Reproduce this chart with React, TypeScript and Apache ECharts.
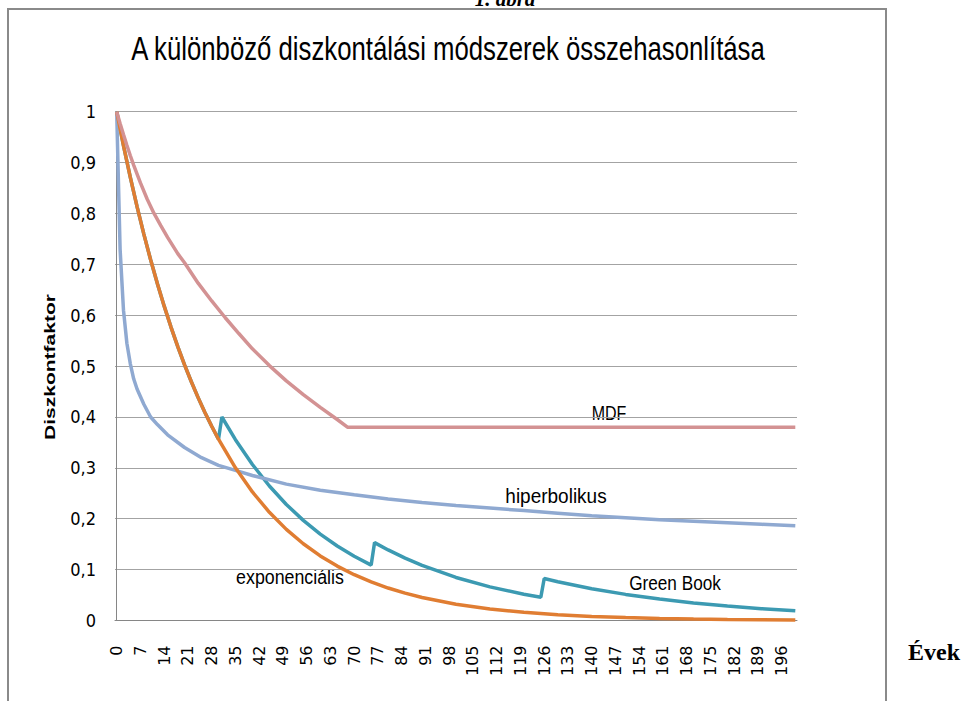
import React, { useEffect, useRef } from 'react';
import * as echarts from 'echarts';

// X tick labels (years) and Y tick labels
const xTickLabels = [0, 7, 14, 21, 28, 35, 42, 49, 56, 63, 70, 77, 84, 91, 98, 105, 112, 119, 126, 133, 140, 147, 154, 161, 168, 175, 182, 189, 196];
const yTickLabels = ['0', '0,1', '0,2', '0,3', '0,4', '0,5', '0,6', '0,7', '0,8', '0,9', '1'];

// exponenciális
const expYears = [0, 2, 4, 6, 8, 10, 12, 14, 16, 18, 20, 22, 24, 26, 28, 30, 35, 40, 45, 50, 55, 60, 65, 70, 75, 80, 85, 90, 100, 110, 120, 130, 140, 150, 160, 170, 180, 190, 200];
const expValues = [1, 0.9335, 0.8714, 0.8135, 0.7594, 0.7089, 0.6618, 0.6178, 0.5767, 0.5384, 0.5026, 0.4692, 0.438, 0.4088, 0.3817, 0.3563, 0.3, 0.2526, 0.2127, 0.1791, 0.1508, 0.1269, 0.1069, 0.09, 0.0758, 0.0638, 0.0537, 0.0453, 0.0321, 0.0228, 0.0161, 0.0115, 0.0081, 0.0058, 0.0041, 0.0029, 0.0021, 0.0015, 0.001];

// Green Book
const gbYears = [0, 2, 4, 6, 8, 10, 12, 14, 16, 18, 20, 22, 24, 26, 28, 30, 31, 35, 40, 45, 50, 55, 60, 65, 70, 75, 76, 80, 85, 90, 100, 110, 120, 125, 126, 130, 140, 150, 160, 170, 180, 190, 200];
const gbValues = [1, 0.9335, 0.8714, 0.8135, 0.7594, 0.7089, 0.6618, 0.6178, 0.5767, 0.5384, 0.5026, 0.4692, 0.438, 0.4088, 0.3817, 0.3563, 0.4, 0.3554, 0.3066, 0.2644, 0.2281, 0.1968, 0.1697, 0.1464, 0.1263, 0.1089, 0.1531, 0.1387, 0.1226, 0.1083, 0.0846, 0.0661, 0.0516, 0.0456, 0.0825, 0.0762, 0.0625, 0.0513, 0.0421, 0.0345, 0.0283, 0.0232, 0.0191];

// hiperbolikus
const hypYears = [0, 1, 2, 3, 4, 5, 6, 8, 10, 12, 15, 20, 25, 30, 35, 40, 50, 60, 70, 80, 90, 100, 110, 120, 130, 140, 150, 160, 170, 180, 190, 200];
const hypValues = [1, 0.73, 0.61, 0.545, 0.505, 0.475, 0.455, 0.425, 0.4, 0.385, 0.365, 0.34, 0.32, 0.305, 0.295, 0.285, 0.268, 0.256, 0.247, 0.239, 0.232, 0.226, 0.221, 0.216, 0.211, 0.206, 0.202, 0.198, 0.195, 0.192, 0.189, 0.186];

// MDF
const mdfYears = [0, 1, 2, 3, 4, 5, 7, 9, 11, 13, 15, 18, 20, 24, 28, 32, 36, 40, 45, 50, 55, 60, 65, 68, 100, 150, 200];
const mdfValues = [1, 0.977, 0.955, 0.934, 0.914, 0.895, 0.86, 0.828, 0.8, 0.776, 0.753, 0.721, 0.703, 0.663, 0.628, 0.595, 0.564, 0.534, 0.501, 0.471, 0.444, 0.419, 0.395, 0.38, 0.38, 0.38, 0.38];

const pairs = (xs: number[], ys: number[]) => xs.map((x, i) => [x, ys[i]]);

const SANS = '"Liberation Sans", Arial, sans-serif';

const centerText = (x: number, y: number, text: string, font: string, scaleX = 1) => ({
  type: 'text',
  x,
  y,
  scaleX,
  silent: true,
  style: { text, font, fill: '#000', align: 'center', verticalAlign: 'middle', textAlign: 'center', textVerticalAlign: 'middle' },
});

export default function App() {
  const ref = useRef<HTMLDivElement>(null);
  useEffect(() => {
    const chart = echarts.init(ref.current!, null, { renderer: 'svg' });
    const lineW = 3.5;
    chart.setOption({
      animation: false,
      backgroundColor: '#ffffff',
      grid: { left: 115, right: 174, top: 111.7, bottom: 80.5, containLabel: false },
      xAxis: {
        type: 'value',
        min: -0.5,
        max: 200.5,
        axisLine: { show: true, onZero: false, lineStyle: { color: '#868686', width: 1 } },
        axisTick: { show: false },
        splitLine: { show: false },
        axisLabel: {
          customValues: xTickLabels,
          rotate: 90,
          margin: 25,
          fontFamily: '"DejaVu Sans", sans-serif',
          fontSize: 16,
          color: '#000',
          formatter: (v: number) => String(v),
        },
      },
      yAxis: {
        type: 'value',
        min: 0,
        max: 1,
        interval: 0.1,
        axisLine: { show: true, lineStyle: { color: '#868686', width: 1 } },
        axisTick: { show: false },
        splitLine: { show: true, lineStyle: { color: '#a3a3a3', width: 1 } },
        axisLabel: {
          margin: 19,
          fontFamily: '"DejaVu Sans Condensed", Roboto, sans-serif',
          fontSize: 18,
          color: '#000',
          formatter: (v: number) => yTickLabels[Math.round(v * 10)],
        },
      },
      series: [
        { name: 'Green Book', type: 'line', symbol: 'none', data: pairs(gbYears, gbValues), lineStyle: { color: '#3C9AB2', width: lineW }, itemStyle: { color: '#3C9AB2' } },
        { name: 'hiperbolikus', type: 'line', symbol: 'none', data: pairs(hypYears, hypValues), lineStyle: { color: '#8FA9D1', width: lineW }, itemStyle: { color: '#8FA9D1' } },
        { name: 'exponenciális', type: 'line', symbol: 'none', data: pairs(expYears, expValues), lineStyle: { color: '#E07D32', width: lineW }, itemStyle: { color: '#E07D32' } },
        { name: 'MDF', type: 'line', symbol: 'none', data: pairs(mdfYears, mdfValues), lineStyle: { color: '#D39293', width: lineW }, itemStyle: { color: '#D39293' } },
      ],
      graphic: [
        { type: 'rect', shape: { x: 8, y: 9, width: 878, height: 720 }, style: { fill: 'none', stroke: '#8a8a8a', lineWidth: 2 }, silent: true },
        centerText(505, -1, '1. ábra', 'italic bold 21px "Liberation Serif", serif'),
        centerText(448, 48, 'A különböző diszkontálási módszerek összehasonlítása', '33px ' + SANS, 0.78),
        { type: 'text', x: 49.5, y: 367, rotation: Math.PI / 2, scaleX: 1.4, silent: true, style: { text: 'Diszkontfaktor', font: 'bold 15px ' + SANS, fill: '#000', align: 'center', verticalAlign: 'middle', textAlign: 'center', textVerticalAlign: 'middle' } },
        centerText(609, 413, 'MDF', '20px ' + SANS, 0.8),
        centerText(556, 496, 'hiperbolikus', '20px ' + SANS, 0.95),
        centerText(290, 577, 'exponenciális', '20px ' + SANS, 0.89),
        centerText(675, 583, 'Green Book', '20px ' + SANS, 0.86),
        { type: 'text', x: 908, y: 652, silent: true, style: { text: 'Évek', font: 'bold 24px "Liberation Serif", serif', fill: '#000', align: 'left', verticalAlign: 'middle', textAlign: 'left', textVerticalAlign: 'middle' } },
      ],
    });
    return () => chart.dispose();
  }, []);
  return <div ref={ref} style={{ position: 'absolute', left: 0, top: 0, width: 971, height: 701, background: '#fff' }} />;
}
